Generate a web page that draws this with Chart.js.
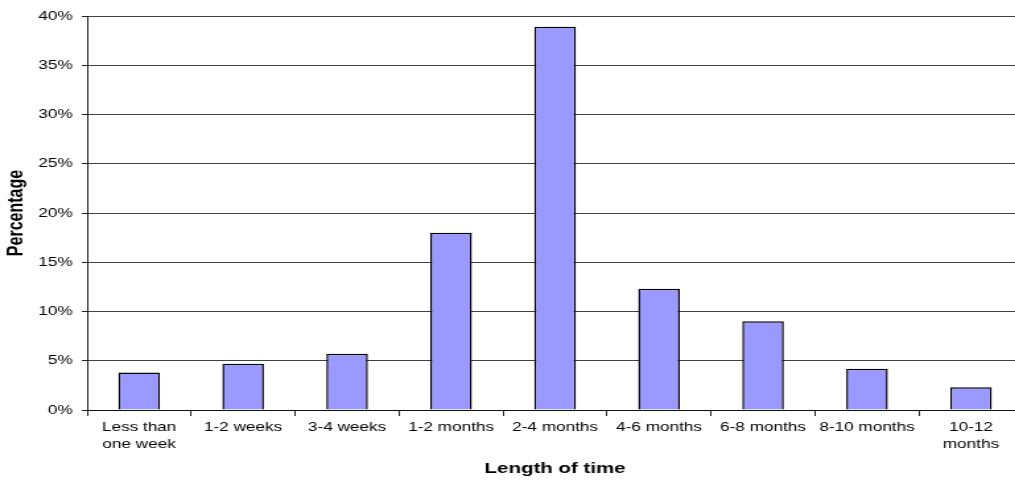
<!DOCTYPE html>
<html>
<head>
<meta charset="utf-8">
<script src="https://cdn.jsdelivr.net/npm/chart.js@4/dist/chart.umd.min.js"></script>
<style>
  html, body { margin: 0; padding: 0; background: #fff; }
  #wrap { width: 1015px; height: 481px; overflow: hidden; position: relative; }
  /* the chart is drawn narrow and widened horizontally, giving the wide lettering */
  #c { position: absolute; left: 0; top: 0; transform: scaleX(1.32); transform-origin: 0 0; }
</style>
</head>
<body>
<div id="wrap"><canvas id="c" width="788" height="481"></canvas></div>
<script>
// Time categories (multi-line labels where the text wraps)
const categories = [
  ['Less than', 'one week'],
  '1-2 weeks',
  '3-4 weeks',
  '1-2 months',
  '2-4 months',
  '4-6 months',
  '6-8 months',
  '8-10 months',
  ['10-12', 'months']
];

// Share of respondents in each time band (%)
const percentages = [3.8, 4.7, 5.7, 18.0, 38.9, 12.3, 9.0, 4.2, 2.3];

// Value axis ticks (%)
const yTicks = [0, 5, 10, 15, 20, 25, 30, 35, 40];

const FONT = '"Liberation Sans", Arial, Helvetica, sans-serif';
const CANVAS_H = 481;
const PLOT_BOTTOM = 410;

new Chart(document.getElementById('c'), {
  type: 'bar',
  data: {
    labels: categories,
    datasets: [{
      data: percentages,
      backgroundColor: '#9999FF',
      borderColor: '#000000',
      borderWidth: 1.5,
      barPercentage: 0.4,
      categoryPercentage: 1.0
    }]
  },
  options: {
    responsive: false,
    animation: false,
    devicePixelRatio: 1,
    layout: { padding: { top: 16, right: 13, bottom: 0, left: 0 } },
    plugins: {
      legend: { display: false },
      tooltip: { enabled: false }
    },
    scales: {
      x: {
        offset: true,
        grid: {
          display: true,
          offset: true,
          drawOnChartArea: false,
          drawTicks: true,
          tickLength: 6,
          tickColor: '#222222',
          color: '#222222'
        },
        border: { display: true, color: '#111111', width: 1 },
        ticks: {
          color: '#000',
          font: { family: FONT, size: 13, lineHeight: 1.3 },
          padding: 3,
          maxRotation: 0,
          autoSkip: false
        },
        title: {
          display: true,
          text: 'Length of time',
          color: '#000',
          font: { family: FONT, size: 15.5, weight: 'bold' },
          padding: { top: 4, bottom: 3 }
        },
        afterFit(scale) { scale.height = CANVAS_H - PLOT_BOTTOM; }
      },
      y: {
        min: 0,
        max: 40,
        afterBuildTicks(scale) { scale.ticks = yTicks.map(v => ({ value: v })); },
        grid: {
          color: '#404040',
          lineWidth: 1,
          drawTicks: true,
          tickLength: 4,
          tickColor: '#222222'
        },
        border: { display: true, color: '#222222', width: 1 },
        ticks: {
          color: '#000',
          font: { family: FONT, size: 13 },
          padding: 7,
          callback: v => v + '%'
        },
        title: {
          display: true,
          text: 'Percentage',
          color: '#000',
          font: { family: FONT, size: 16, weight: 'bold' },
          padding: { top: 3, bottom: 0 }
        },
        afterFit(scale) { scale.width = 66; }
      }
    }
  }
});
</script>
</body>
</html>
